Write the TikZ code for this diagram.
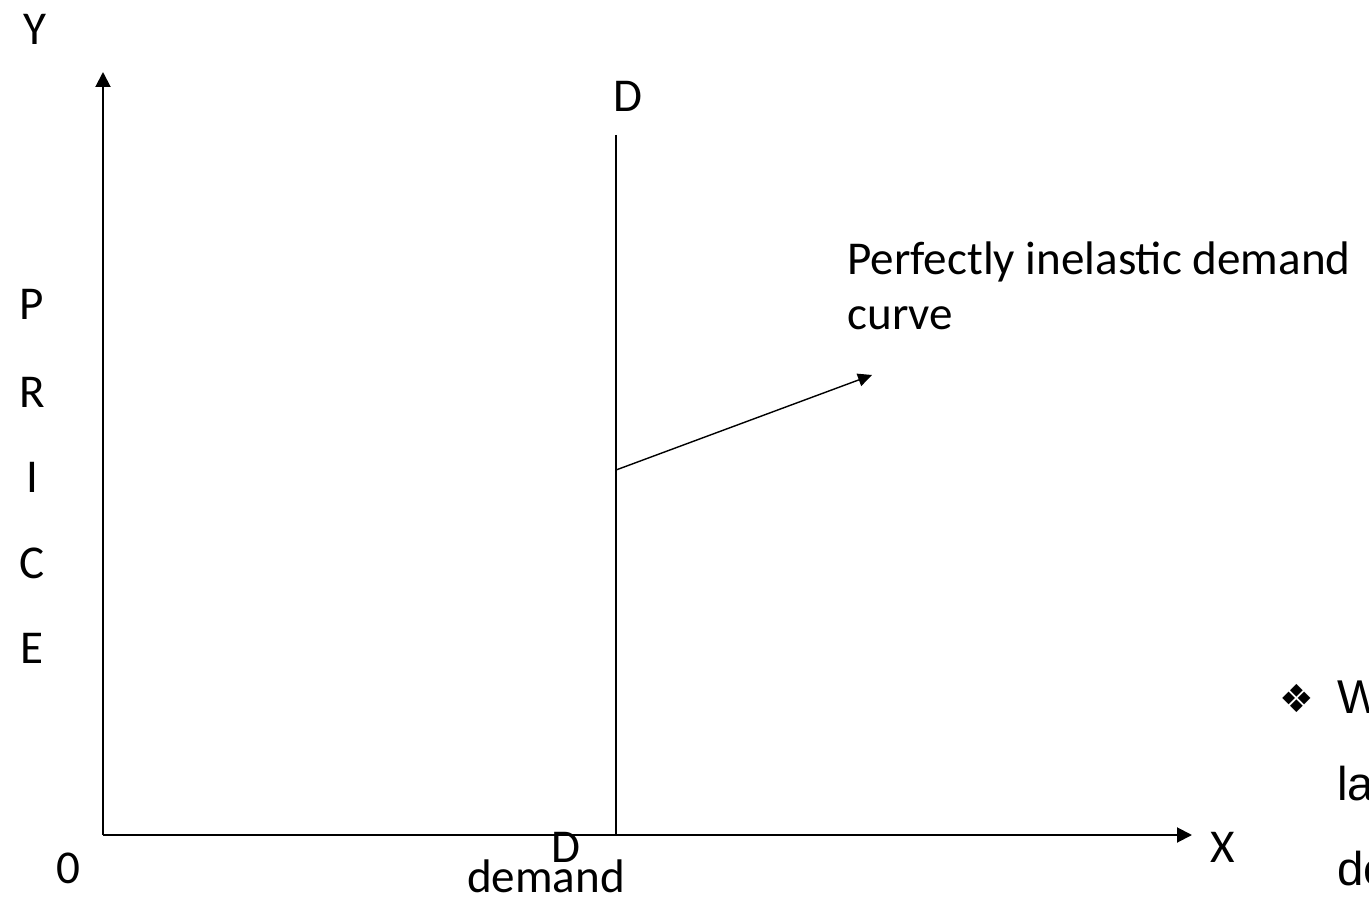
\documentclass[tikz,border=0pt]{standalone}
\usepackage{fontspec}
\setmainfont{Carlito}
\newfontfamily\arialfont{Liberation Sans}
\newfontfamily\symfont{DejaVu Sans}
\usetikzlibrary{arrows.meta}
\begin{document}
\begin{tikzpicture}[x=0.02cm, y=-0.02cm, >={Triangle[length=0.3cm, width=0.3cm]},
        font=\fontsize{26.8}{30}\selectfont]
        \tikzset{lbl/.style={inner sep=0pt, anchor=base},
                 axis/.style={line width=1.1pt, ->},
                 bullettext/.style={inner sep=0pt, anchor=base west, font=\arialfont\fontsize{27}{30}\selectfont}}
        \useasboundingbox (0,0) rectangle (1369,898);
        % axes
        \coordinate (origin) at (103,835);
        \coordinate (ytip) at (103,72);
        \coordinate (xtip) at (1192,835);
        \draw[axis] (origin) -- (ytip);
        \draw[axis] (origin) -- (xtip);
        % axis labels
        \node[lbl] (ylabel) at (35,45) {Y};
        \node[lbl] (xlabel) at (1223,862) {X};
        \node[lbl] (zero) at (68,883) {0};
        \node[lbl] (pP) at (32,320) {P};
        \node[lbl] (pR) at (32,407) {R};
        \node[lbl] (pI) at (32,492) {I};
        \node[lbl] (pC) at (32,578) {C};
        \node[lbl] (pE) at (32,663) {E};
        % demand curve
        \coordinate (dtop) at (616,135);
        \coordinate (dbot) at (616,835);
        \draw[line width=0.8pt] (dtop) -- (dbot);
        \node[lbl] (dlabel) at (628,112) {D};
        \node[lbl] (dxlabel) at (566,862) {D};
        \node[lbl] (demand) at (546,892) {demand};
        % annotation
        \node[inner sep=0pt, anchor=base west] (note) at (847,275) {Perfectly inelastic demand};
        \node[inner sep=0pt, anchor=base west] (note2) at (847,330) {curve};
        \coordinate (arrstart) at (616,470);
        \coordinate (arrend) at (872,375);
        \draw[line width=0.8pt, ->, >={Triangle[length=0.28cm, width=0.26cm]}] (arrstart) -- (arrend);
        % cut-off bullet text
        \node[inner sep=0pt, font=\symfont\fontsize{22}{24}\selectfont] (bullet) at (1297,698) {❖};
        \node[bullettext] (bw) at (1337,713) {W};
        \node[bullettext] (bla) at (1337,800) {la};
        \node[bullettext] (bde) at (1337,885) {de};
\end{tikzpicture}
\end{document}
